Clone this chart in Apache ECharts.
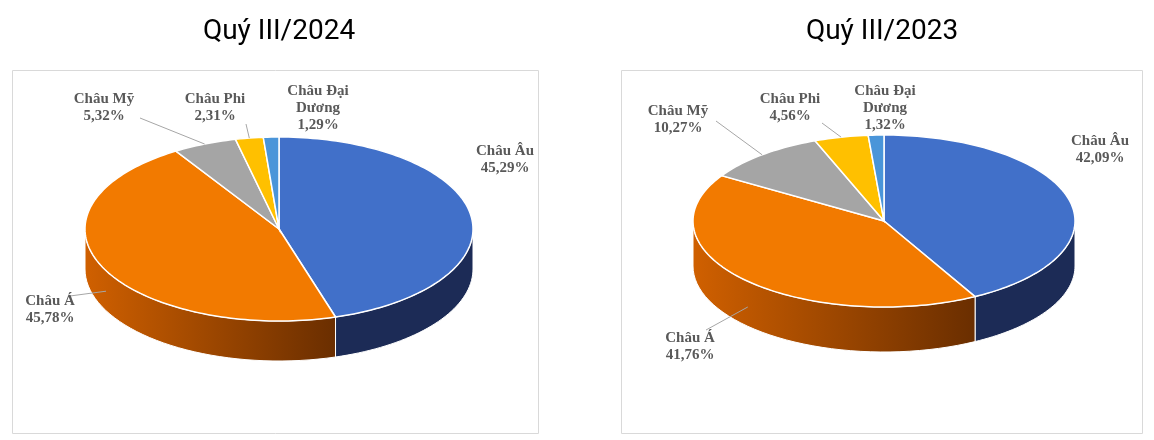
<!DOCTYPE html>
<html lang="vi">
<head>
<meta charset="UTF-8">
<title>Cơ cấu theo châu lục</title>
<script src="https://cdn.jsdelivr.net/npm/echarts@6/dist/echarts.min.js"></script>
<style>
  body { margin: 0; background: #fff; }
  #main { width: 1154px; height: 440px; }
</style>
</head>
<body>
<div id="main"></div>
<script>
// dữ liệu
var categories = ['Châu Âu', 'Châu Á', 'Châu Mỹ', 'Châu Phi', 'Châu Đại\nDương'];
var values2024 = [45.29, 45.78, 5.32, 2.31, 1.29];
var values2023 = [42.09, 41.76, 10.27, 4.56, 1.32];
var titles = ['Quý III/2024', 'Quý III/2023'];

var topColors = ['#4170c9', '#f27a00', '#a5a5a5', '#ffc000', '#4a95d9'];
var sideColors = ['#1c2b56', null, '#6a6a6a', '#a67c00', '#2d5e8c'];

// bố cục (vị trí elip và nhãn)
var pies = [
  { cx: 279, cy: 229, rx: 194, ry: 92, depth: 40,
    labels: [[505, 160], [50, 310], [104, 108], [215, 108], [318, 108]],
    lines: [null, [70, 296], [140, 118], [246, 124], null] },
  { cx: 884, cy: 221, rx: 191, ry: 86, depth: 45,
    labels: [[1100, 150], [690, 347], [678, 120], [790, 108], [885, 108]],
    lines: [null, [706, 330], [716, 121], [822, 123], null] }
];

function fmt(v) { return v.toFixed(2).replace('.', ',') + '%'; }

function pt(p, a, dy) {
  return [p.cx + p.rx * Math.sin(a), p.cy - p.ry * Math.cos(a) + (dy || 0)];
}

function makeRender(values, p) {
  var total = values.reduce(function (s, v) { return s + v; }, 0);
  return function (params, api) {
    var i = params.dataIndex;
    var before = 0;
    for (var k = 0; k < i; k++) before += values[k];
    var a0 = before / total * 2 * Math.PI;
    var a1 = (before + values[i]) / total * 2 * Math.PI;
    var children = [];

    // thành bên (nửa trước)
    var w0 = Math.max(a0, Math.PI / 2), w1 = Math.min(a1, Math.PI * 1.5);
    if (w1 > w0) {
      var top = [], bot = [];
      var n = 40;
      for (var s = 0; s <= n; s++) {
        var a = w0 + (w1 - w0) * s / n;
        top.push(pt(p, a));
        bot.unshift(pt(p, a, p.depth));
      }
      var fill = sideColors[i] || new echarts.graphic.LinearGradient(0, 0, 1, 0, [
        { offset: 0, color: '#d06000' }, { offset: 1, color: '#6a2e00' }]);
      children.push({ type: 'polygon', shape: { points: top.concat(bot) },
        style: { fill: fill, stroke: '#fff', lineWidth: 1 } });
    }

    // mặt trên
    var pts = [[p.cx, p.cy]];
    var m = Math.max(4, Math.ceil((a1 - a0) * 40));
    for (var s2 = 0; s2 <= m; s2++) pts.push(pt(p, a0 + (a1 - a0) * s2 / m));
    children.push({ type: 'polygon', shape: { points: pts },
      style: { fill: topColors[i], stroke: '#fff', lineWidth: 1.5 } });

    // nhãn
    var lp = p.labels[i];
    var ln = p.lines[i];
    if (ln) {
      var mid = (a0 + a1) / 2;
      var e = pt(p, mid);
      if (i === 1) e = [p.cx + p.rx * Math.sin(mid) * 0.98, p.cy - p.ry * Math.cos(mid) + p.depth * 0.6];
      children.push({ type: 'polyline', shape: { points: [ln, e] },
        style: { stroke: '#a6a6a6', lineWidth: 1 } });
    }
    children.push({ type: 'text', x: lp[0], y: lp[1],
      style: { text: categories[i] + '\n' + fmt(values[i]), align: 'center', verticalAlign: 'middle',
        font: 'bold 15px "Liberation Serif"', fill: '#595959', lineHeight: 17 } });
    return { type: 'group', children: children };
  };
}

var chart = echarts.init(document.getElementById('main'));
chart.setOption({
  animation: false,
  graphic: [
    { type: 'rect', shape: { x: 12.5, y: 70.5, width: 526, height: 363 }, style: { fill: 'none', stroke: '#d9d9d9' } },
    { type: 'rect', shape: { x: 621.5, y: 70.5, width: 521, height: 363 }, style: { fill: 'none', stroke: '#d9d9d9' } },
    { type: 'text', x: 279, y: 32, style: { text: titles[0], align: 'center', verticalAlign: 'middle', font: '400 28px Roboto', fill: '#000' } },
    { type: 'text', x: 882, y: 32, style: { text: titles[1], align: 'center', verticalAlign: 'middle', font: '400 28px Roboto', fill: '#000' } }
  ],
  series: [
    { type: 'custom', coordinateSystem: 'none', data: values2024.map(function (v, i) { return [i, v]; }),
      renderItem: makeRender(values2024, pies[0]) },
    { type: 'custom', coordinateSystem: 'none', data: values2023.map(function (v, i) { return [i, v]; }),
      renderItem: makeRender(values2023, pies[1]) }
  ]
});
</script>
</body>
</html>
